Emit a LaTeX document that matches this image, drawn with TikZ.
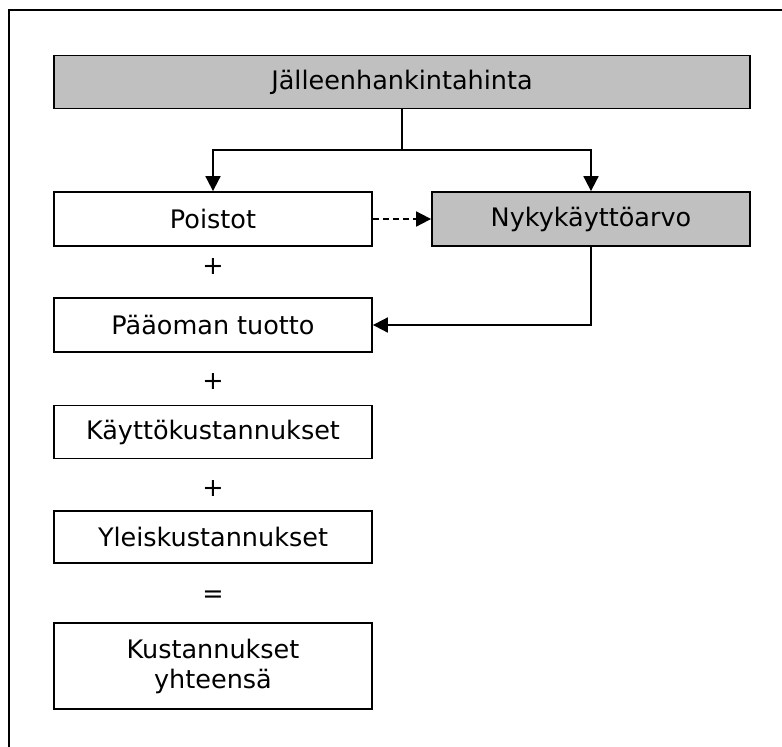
\documentclass[tikz,border=0pt]{standalone}
\usepackage{fontspec}
\setmainfont{DejaVu Sans}
\usetikzlibrary{arrows.meta}
\definecolor{boxgray}{HTML}{C0C0C0}

\begin{document}
\begin{tikzpicture}
[x=1pt,y=-1pt,>={Triangle[length=15pt,width=15pt]},
box/.style={draw,line width=1.8pt,inner sep=0pt,align=center,minimum width=318pt,minimum height=54pt,font=\fontsize{25.5}{30}\selectfont},
graybox/.style={box,fill=boxgray},
sign/.style={inner sep=0pt,font=\fontsize{25.5}{30}\selectfont},
link/.style={line width=1.8pt},]

\useasboundingbox (0,0) rectangle (782,747);

%Outer frame
\draw[line width=2.2pt] (9,10) rectangle (800,770);

%Boxes
\node (hinta) at (402,82)[graybox,minimum width=696pt,minimum height=53pt] {Jälleenhankintahinta};
\node (poistot) at (213,219)[box] {Poistot};
\node (nyky) at (591,219)[graybox] {Nykykäyttöarvo};
\node (tuotto) at (213,325)[box] {Pääoman tuotto};
\node (kaytto) at (213,432)[box,minimum height=53pt] {Käyttökustannukset};
\node (yleis) at (213,537)[box,minimum height=52pt] {Yleiskustannukset};
\node (kust) at (213,666)[box,minimum height=86pt] {Kustannukset\\yhteensä};

%Signs between boxes
\node (s1) at (213,267)[sign] {+};
\node (s2) at (213,382)[sign] {+};
\node (s3) at (213,488)[sign] {+};
\node (s4) at (213,597)[sign] {=};

%Arrows
\coordinate (fork) at (402,150);
\draw[link] (hinta.south) -- (fork);
\draw[link,->] (fork) -| (poistot.north);
\draw[link,->] (fork) -| (nyky.north);
\draw[link,->,dash pattern=on 6pt off 4pt] (poistot.east) -- (nyky.west);
\draw[link,->] (nyky.south) |- (tuotto.east);

\end{tikzpicture}
\end{document}
